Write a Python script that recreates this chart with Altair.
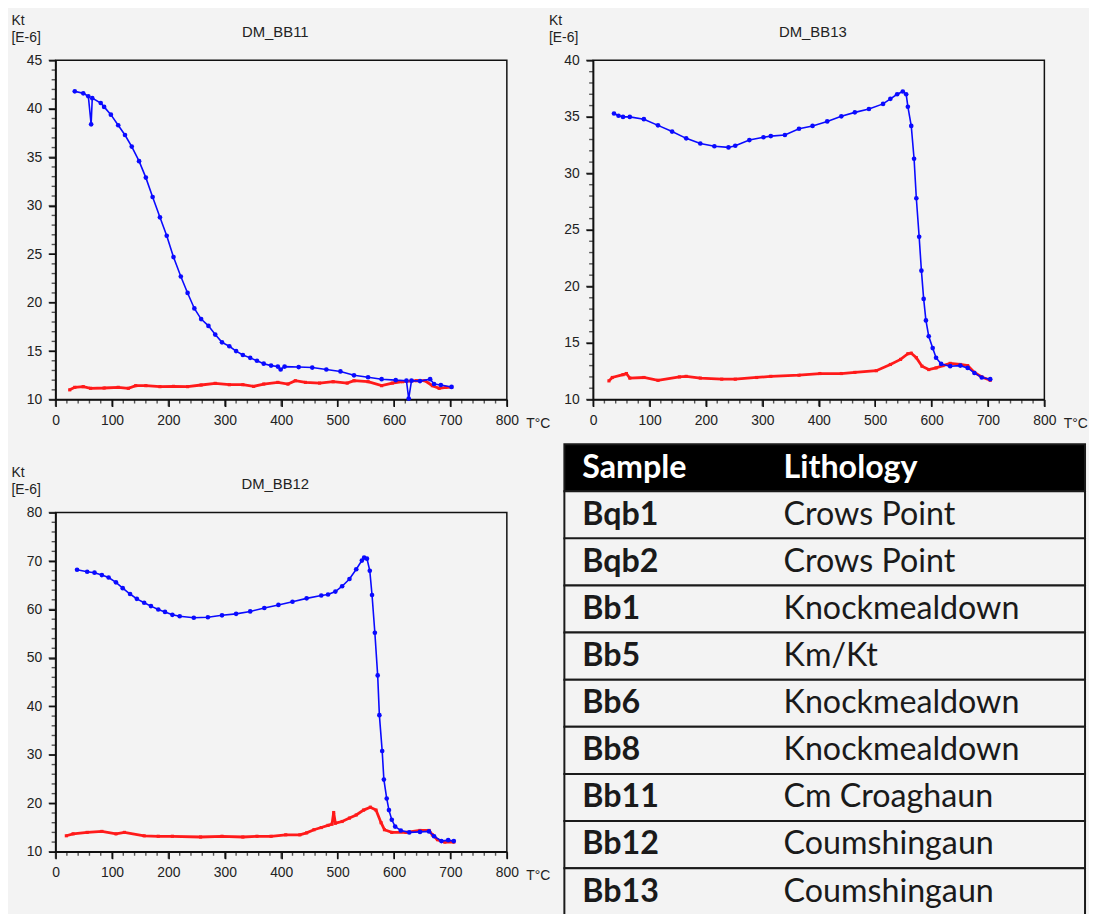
import altair as alt
import pandas as pd

# ---------------- data ----------------
# DM_BB11 (heating = blue, cooling = red)
bb11_heat_t = [34, 49, 58, 63, 65, 80, 86, 98, 111, 123, 135, 148, 160, 172, 185, 197, 209, 222,
               234, 246, 258, 271, 283, 295, 308, 320, 332, 345, 357, 369, 382, 394, 399, 406,
               431, 455, 480, 505, 529, 554, 578, 603, 622, 626, 631, 646, 664, 671, 683, 702]
bb11_heat_k = [41.8, 41.6, 41.3, 38.4, 41.1, 40.6, 40.2, 39.4, 38.3, 37.3, 36.1, 34.6, 32.9, 30.9,
               28.8, 26.9, 24.7, 22.7, 21.0, 19.4, 18.3, 17.6, 16.7, 15.9, 15.5, 15.0, 14.6, 14.3,
               14.0, 13.7, 13.5, 13.4, 13.1, 13.4, 13.35, 13.3, 13.1, 12.9, 12.5, 12.3, 12.1, 12.0,
               11.95, 10.1, 11.95, 11.9, 12.1, 11.6, 11.5, 11.3]
bb11_cool_t = [25, 34, 49, 62, 86, 111, 129, 142, 160, 185, 209, 234, 258, 283, 308, 332, 351, 369,
               394, 412, 425, 443, 468, 492, 517, 529, 554, 578, 597, 615, 640, 655, 668, 680, 692, 702]
bb11_cool_k = [11.0, 11.26, 11.33, 11.16, 11.19, 11.26, 11.16, 11.43, 11.43, 11.33, 11.36, 11.33,
               11.5, 11.67, 11.53, 11.53, 11.36, 11.6, 11.77, 11.6, 11.94, 11.77, 11.7, 11.84, 11.7,
               11.94, 11.84, 11.43, 11.7, 11.84, 11.94, 11.94, 11.43, 11.16, 11.26, 11.26]

# DM_BB13
bb13_heat_t = [37, 45, 53, 65, 90, 115, 140, 165, 190, 215, 240, 252, 277, 302, 315, 340, 365, 389,
               415, 440, 464, 489, 514, 527, 539, 549, 555, 558, 564, 569, 573, 578, 582, 586, 590,
               595, 602, 608, 617, 633, 651, 664, 676, 689, 704]
bb13_heat_k = [35.3, 35.1, 35.0, 35.0, 34.8, 34.25, 33.7, 33.1, 32.65, 32.4, 32.3, 32.45, 32.95,
               33.2, 33.3, 33.4, 33.95, 34.2, 34.6, 35.05, 35.4, 35.7, 36.15, 36.6, 37.0, 37.25,
               37.0, 35.9, 34.2, 31.3, 27.8, 24.4, 21.4, 18.9, 17.0, 15.6, 14.55, 13.7, 13.15,
               12.95, 13.0, 12.8, 12.35, 11.95, 11.8]
bb13_cool_t = [28, 34, 53, 59, 65, 90, 115, 153, 165, 190, 228, 252, 290, 315, 365, 402, 440, 464,
               502, 527, 545, 558, 564, 573, 583, 595, 608, 620, 633, 651, 664, 676, 689, 704]
bb13_cool_k = [11.65, 11.95, 12.2, 12.3, 11.9, 11.95, 11.7, 12.0, 12.05, 11.9, 11.8, 11.8, 11.95,
               12.05, 12.15, 12.3, 12.3, 12.4, 12.55, 13.1, 13.55, 14.05, 14.1, 13.7, 12.95, 12.65,
               12.8, 13.0, 13.2, 13.1, 13.0, 12.4, 12.0, 11.7]

# DM_BB12
bb12_heat_t = [38, 56, 69, 82, 94, 107, 119, 132, 144, 157, 169, 182, 194, 207, 220, 245, 270, 295,
               320, 345, 370, 395, 420, 445, 471, 483, 496, 508, 521, 533, 543, 547, 552, 557, 561,
               566, 571, 574, 579, 582, 587, 591, 596, 602, 612, 627, 646, 662, 671, 684, 696, 706]
bb12_heat_k = [68.2, 67.8, 67.6, 67.1, 66.6, 65.6, 64.4, 63.2, 62.2, 61.4, 60.7, 60.0, 59.5, 58.9,
               58.6, 58.3, 58.4, 58.8, 59.1, 59.6, 60.3, 60.95, 61.6, 62.3, 62.9, 63.1, 63.7, 64.8,
               66.3, 68.3, 70.1, 70.7, 70.5, 68.0, 63.0, 55.2, 46.4, 38.2, 30.8, 24.9, 21.0, 18.6,
               16.6, 15.2, 14.4, 14.0, 14.1, 14.2, 13.2, 12.2, 12.4, 12.2]
bb12_cool_t = [19, 31, 56, 82, 107, 122, 157, 182, 207, 257, 295, 332, 357, 382, 408, 433, 445, 458,
               471, 483, 490, 493, 496, 508, 521, 533, 546, 558, 568, 577, 583, 596, 621, 646, 662,
               668, 677, 690, 706]
bb12_cool_k = [13.3, 13.7, 14.0, 14.2, 13.7, 14.0, 13.3, 13.2, 13.2, 13.05, 13.2, 13.05, 13.2, 13.2,
               13.5, 13.5, 13.9, 14.55, 15.0, 15.45, 15.7, 18.1, 15.9, 16.25, 16.95, 17.6, 18.6,
               19.2, 18.6, 16.0, 14.55, 14.0, 14.0, 14.4, 14.4, 13.5, 12.5, 12.0, 12.0]

# table
table_samples = ["Sample", "Bqb1", "Bqb2", "Bb1", "Bb5", "Bb6", "Bb8", "Bb11", "Bb12", "Bb13"]
table_litho = ["Lithology", "Crows Point", "Crows Point", "Knockmealdown", "Km/Kt",
               "Knockmealdown", "Knockmealdown", "Cm Croaghaun", "Coumshingaun", "Coumshingaun"]

# ---------------- styling ----------------
BG = "#f3f3f3"
FONT = "Liberation Sans"
TFONT = "Lato"
INK = "#222222"
PW, PH = 455, 342


def panel(title, heat_t, heat_k, cool_t, cool_k, ymin, ymax, ystep):
    heat = pd.DataFrame({"T": heat_t, "K": heat_k})
    cool = pd.DataFrame({"T": cool_t, "K": cool_k})
    xs = alt.Scale(domain=[0, 800], nice=False, zero=False)
    ys = alt.Scale(domain=[ymin, ymax], nice=False, zero=False)
    y_major = list(range(ymin, ymax + 1, ystep))
    y_minor = [v for v in range(ymin, ymax + 1, ystep // 5) if v not in y_major]
    x_major = list(range(0, 801, 100))
    x_minor = [v for v in range(0, 801, 20) if v not in x_major]

    common = dict(labelFont=FONT, labelFontSize=14, labelColor=INK,
                  tickColor="#111111", tickWidth=1.5, tickSize=7,
                  domainColor="#111111", domainWidth=1.5, grid=False,
                  labelPadding=7, labelOverlap=False, labelBound=False, labelFlush=False)
    xaxis = alt.Axis(
        values=x_major, orient="bottom",
        title="T°C", titleFont=FONT, titleFontSize=14, titleFontWeight="normal",
        titleColor=INK, titleAlign="left", titleBaseline="middle",
        titleAnchor="start", titleX=PW + 19, titleY=24, format="d", **common)
    yaxis = alt.Axis(
        values=y_major, orient="left",
        title=["Kt", "[E-6]"], titleFont=FONT, titleFontSize=14, titleFontWeight="normal",
        titleColor=INK, titleAngle=0, titleAlign="left", titleBaseline="top",
        titleAnchor="start", titleX=-45, titleY=-47, titleLineHeight=17,
        format="d", **common)

    # tick marks drawn as marks, positioned through the same scales
    ytk_major = pd.DataFrame({"K": y_major})
    ytk_minor = pd.DataFrame({"K": y_minor})
    xtk_major = pd.DataFrame({"T": x_major})
    xtk_minor = pd.DataFrame({"T": x_minor})
    ymaj = alt.Chart(ytk_major).mark_tick(
        orient="horizontal", color="#111111", size=7, thickness=1.6
    ).encode(y=alt.Y("K:Q", scale=ys, axis=yaxis), x=alt.value(-3.5))
    ymin_ = alt.Chart(ytk_minor).mark_tick(
        orient="horizontal", color="#111111", size=4, thickness=1.4
    ).encode(y=alt.Y("K:Q", scale=ys, axis=yaxis), x=alt.value(-2))
    xmaj = alt.Chart(xtk_major).mark_tick(
        orient="vertical", color="#111111", size=7, thickness=1.6
    ).encode(x=alt.X("T:Q", scale=xs, axis=xaxis), y=alt.value(PH + 3.5))
    xmin_ = alt.Chart(xtk_minor).mark_tick(
        orient="vertical", color="#111111", size=4, thickness=1.4
    ).encode(x=alt.X("T:Q", scale=xs, axis=xaxis), y=alt.value(PH + 2))

    red = alt.Chart(cool).mark_line(
        color="#ff1a1a", strokeWidth=2.8,
        point=alt.OverlayMarkDef(shape="square", size=10, color="#ff1a1a", filled=True)
    ).encode(x=alt.X("T:Q", scale=xs, axis=xaxis), y=alt.Y("K:Q", scale=ys, axis=yaxis))
    blue = alt.Chart(heat).mark_line(
        color="#0a0aff", strokeWidth=1.6,
        point=alt.OverlayMarkDef(shape="circle", size=22, color="#0a0aff", filled=True)
    ).encode(x=alt.X("T:Q", scale=xs, axis=xaxis), y=alt.Y("K:Q", scale=ys, axis=yaxis))

    return alt.layer(red, blue, ymaj, ymin_, xmaj, xmin_).properties(
        width=PW, height=PH,
        title=alt.TitleParams(title, font=FONT, fontSize=15, fontWeight="normal",
                              color=INK, anchor="middle", frame="group", offset=0,
                              dx=-6, dy=26),
        view=alt.ViewBackground(stroke="#111111", strokeWidth=1.5),
    )


c1 = panel("DM_BB11", bb11_heat_t, bb11_heat_k, bb11_cool_t, bb11_cool_k, 10, 45, 5)
c2 = panel("DM_BB13", bb13_heat_t, bb13_heat_k, bb13_cool_t, bb13_cool_k, 10, 40, 5)
c3 = panel("DM_BB12", bb12_heat_t, bb12_heat_k, bb12_cool_t, bb12_cool_k, 10, 80, 10)

# ---------------- table ----------------
# table group origin sits at the second column; the table reaches left / up from it
TW, TH = 496, 396
TL = -29  # left edge of table relative to the column
tdf = pd.DataFrame({
    "row": list(range(len(table_samples))),
    "sample": table_samples,
    "litho": table_litho,
    "kind": ["head"] + ["body"] * (len(table_samples) - 1),
})
ysc = alt.Scale(domain=list(range(len(table_samples))), range=[-69, 406],
                paddingInner=0, paddingOuter=0)
ty = alt.Y("row:O", scale=ysc, axis=None)
fill_scale = alt.Scale(domain=["head", "body"], range=["#000000", BG])
ink_scale = alt.Scale(domain=["head", "body"], range=["#ffffff", "#1a1a1a"])

cells = alt.Chart(tdf).mark_rect(stroke="#1a1a1a", strokeWidth=2).encode(
    y=ty, x=alt.value(TL), x2=alt.value(TW),
    fill=alt.Fill("kind:N", scale=fill_scale, legend=None))
sample_txt = alt.Chart(tdf).mark_text(
    font=TFONT, fontSize=32.5, fontWeight="bold", align="left", baseline="middle"
).encode(y=ty, x=alt.value(TL + 18), text="sample:N",
         color=alt.Color("kind:N", scale=ink_scale, legend=None))
head_litho = alt.Chart(tdf).transform_filter(alt.datum.kind == "head").mark_text(
    font=TFONT, fontSize=32.5, fontWeight="bold", align="left", baseline="middle"
).encode(y=ty, x=alt.value(TL + 221), text="litho:N",
         color=alt.Color("kind:N", scale=ink_scale, legend=None))
body_litho = alt.Chart(tdf).transform_filter(alt.datum.kind == "body").mark_text(
    font=TFONT, fontSize=32.5, fontWeight="normal", align="left", baseline="middle"
).encode(y=ty, x=alt.value(TL + 221), text="litho:N",
         color=alt.Color("kind:N", scale=ink_scale, legend=None))

tbl = alt.layer(cells, sample_txt, head_litho, body_litho).properties(
    width=TW, height=TH, view=alt.ViewBackground(strokeOpacity=0))

chart = alt.concat(
    c1, c2, c3, tbl, columns=2, spacing={"row": 114, "column": 87}, bounds="flush"
).properties(
    background=BG,
    padding={"left": 2, "top": 1, "right": 0, "bottom": 0},
).configure_view(stroke="#111111", strokeWidth=1.5)

chart.save("out.html", embed_options={"renderer": "svg", "actions": False})
